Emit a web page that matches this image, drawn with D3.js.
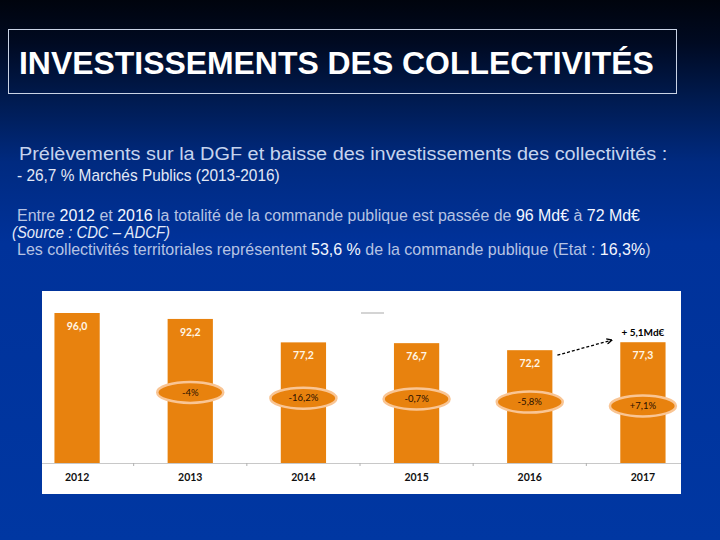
<!DOCTYPE html>
<html>
<head>
<meta charset="utf-8">
<script src="https://cdn.jsdelivr.net/npm/d3@7"></script>
<style>
  html, body { margin: 0; padding: 0; background: #00246b; }
  svg { display: block; }
</style>
</head>
<body>
<svg id="chart" width="720" height="540"></svg>
<script>
// ---------- data ----------
const years = ["2012", "2013", "2014", "2015", "2016", "2017"];
const values = [96.0, 92.2, 77.2, 76.7, 72.2, 77.3];
const valueLabels = ["96,0", "92,2", "77,2", "76,7", "72,2", "77,3"];
const changeLabels = [null, "-4%", "-16,2%", "-0,7%", "-5,8%", "+7,1%"];
// vertical level (in data units, Md€) at which each change badge sits
const badgeLevels = [null, 45.2, 41.5, 41.0, 39.0, 36.5];
const gainLabel = "+ 5,1Md€";

const titleText = "INVESTISSEMENTS DES COLLECTIVITÉS";
const subtitle1 = "Prélèvements sur la DGF et baisse des investissements des collectivités :";
const subtitle2 = "- 26,7 %  Marchés Publics (2013-2016)";
// lines as segments [text, highlighted?]
const line3 = [["Entre ", 0], ["2012", 1], [" et ", 0], ["2016", 1], [" la totalité de la commande publique est passée de ", 0], ["96 Md€", 1], [" à ", 0], ["72 Md€", 1]];
const line4 = "(Source : CDC – ADCF)";
const line5 = [["Les collectivités territoriales représentent ", 0], ["53,6 %", 1], [" de la commande publique (Etat : ", 0], ["16,3%", 1], [")", 0]];

// ---------- drawing ----------
const svg = d3.select("#chart");
const defs = svg.append("defs");

const bg = defs.append("linearGradient").attr("id", "bg").attr("x1", 0).attr("y1", 0).attr("x2", 0).attr("y2", 1);
[[0, "#00040d"], [0.08, "#000a22"], [0.18, "#001a4e"], [0.3, "#002a80"], [0.45, "#00329a"], [1, "#0037a2"]]
  .forEach(([o, c]) => bg.append("stop").attr("offset", o).attr("stop-color", c));
svg.append("rect").attr("width", 720).attr("height", 540).attr("fill", "url(#bg)");

const arrowHead = defs.append("marker").attr("id", "arr").attr("viewBox", "0 0 10 10")
  .attr("refX", 8).attr("refY", 5).attr("markerWidth", 5).attr("markerHeight", 5).attr("orient", "auto");
arrowHead.append("path").attr("d", "M1,1 L9,5 L1,9").attr("fill", "none").attr("stroke", "#000").attr("stroke-width", 2);

// fit a text element horizontally to a target width
function fitText(sel, x, y, target) {
  const w = sel.node().getComputedTextLength();
  sel.attr("x", null).attr("y", null)
     .attr("transform", `translate(${x},${y}) scale(${target / w},1)`);
}

const sans = "Liberation Sans, Arial, sans-serif";

// title box
svg.append("rect").attr("x", 8.5).attr("y", 29.5).attr("width", 668).attr("height", 64)
  .attr("fill", "none").attr("stroke", "#c9d3e6").attr("stroke-width", 1);
const t = svg.append("text").text(titleText)
  .attr("font-family", sans).attr("font-size", 32).attr("font-weight", "bold")
  .attr("fill", "#ffffff");
fitText(t, 19, 74, 635);

// subtitles
const s1 = svg.append("text").text(subtitle1)
  .attr("font-family", sans).attr("font-size", 18.5)
  .attr("fill", "#c6d4ee");
fitText(s1, 19, 160, 649);

const s2 = svg.append("text").text(subtitle2)
  .attr("font-family", sans).attr("font-size", 16).attr("fill", "#e2e8f6");
fitText(s2, 17, 181, 263);

function segLine(segs, x, y, target) {
  const el = svg.append("text").attr("font-family", sans).attr("font-size", 16);
  segs.forEach(([txt, hi]) => el.append("tspan").text(txt).attr("fill", hi ? "#f4f7ff" : "#b6c3e3"));
  fitText(el, x, y, target);
}
segLine(line3, 17, 221, 623);
const s4 = svg.append("text").text(line4).attr("font-family", sans)
  .attr("font-size", 16).attr("font-style", "italic").attr("fill", "#e4eaf8");
fitText(s4, 12, 238, 158);
segLine(line5, 17, 255, 634);

// chart panel
const panel = { x: 42, y: 291, w: 639, h: 203 };
svg.append("rect").attr("x", panel.x).attr("y", panel.y).attr("width", panel.w).attr("height", panel.h).attr("fill", "#ffffff");
defs.append("clipPath").attr("id", "pclip").append("rect")
  .attr("x", panel.x).attr("y", panel.y).attr("width", panel.w).attr("height", panel.h);
const g = svg.append("g").attr("clip-path", "url(#pclip)");

const x = d3.scaleBand().domain(years).range([20.5, 699.5]).paddingInner(0.6).paddingOuter(0.3);
const y = d3.scaleLinear().domain([0, 96]).range([463, 313]);
const orange = "#e8820e";
const data = years.map((yr, i) => ({ yr, v: values[i], lab: valueLabels[i], ch: changeLabels[i], lvl: badgeLevels[i] }));

// axis
const axis = d3.axisBottom(x).tickSize(0).tickFormat(d => d);
const ag = g.append("g").attr("transform", `translate(0,${y(0)})`).call(axis);
ag.select(".domain").attr("stroke", "#c8c8c8").attr("d", `M${panel.x},0.5H${panel.x + panel.w}`);
ag.selectAll("text").attr("font-family", "Lato, Open Sans, sans-serif").attr("font-weight", "bold")
  .attr("font-size", 10.5).attr("fill", "#111").attr("dy", "1.4em");
// category-boundary tick marks
g.selectAll(".bt").data(years.slice(1)).join("line")
  .attr("x1", d => x(d) - x.step() * x.paddingInner() / 2).attr("x2", d => x(d) - x.step() * x.paddingInner() / 2)
  .attr("y1", y(0)).attr("y2", y(0) + 3).attr("stroke", "#b0b0b0");

// faint legend remnant
g.append("line").attr("x1", 361).attr("x2", 384).attr("y1", 313).attr("y2", 313)
  .attr("stroke", "#b8b8b8").attr("stroke-width", 1.5).attr("opacity", 0.8);

// bars
g.selectAll(".bar").data(data).join("rect")
  .attr("x", d => x(d.yr)).attr("width", x.bandwidth())
  .attr("y", d => y(d.v)).attr("height", d => y(0) - y(d.v)).attr("fill", orange);

g.selectAll(".vl").data(data).join("text")
  .attr("x", d => x(d.yr) + x.bandwidth() / 2).attr("y", d => y(d.v) + 17)
  .attr("text-anchor", "middle").attr("font-family", "Lato, Open Sans, sans-serif")
  .attr("font-weight", "bold").attr("font-size", 10.5).attr("fill", "#fff6e6").text(d => d.lab);

// change badges
const badges = g.selectAll(".badge").data(data.filter(d => d.ch)).join("g")
  .attr("transform", d => `translate(${x(d.yr) + x.bandwidth() / 2},${y(d.lvl)})`);
badges.append("ellipse").attr("rx", 33).attr("ry", 10.5).attr("fill", orange)
  .attr("stroke", "#f9c594").attr("stroke-width", 2.5);
badges.append("text").attr("text-anchor", "middle").attr("dy", "0.35em")
  .attr("font-family", "Lato, Open Sans, sans-serif").attr("font-size", 9.5)
  .attr("fill", "#2a1000").text(d => d.ch);

// arrow 2016 -> 2017
const b16 = data[4], b17 = data[5];
g.append("line")
  .attr("x1", x(b16.yr) + x.bandwidth() + 5).attr("y1", y(b16.v) + 5)
  .attr("x2", x(b17.yr) - 9).attr("y2", y(b17.v) - 2)
  .attr("stroke", "#000").attr("stroke-width", 1.3).attr("stroke-dasharray", "3,2")
  .attr("marker-end", "url(#arr)");
g.append("text").attr("x", x(b17.yr) + x.bandwidth() / 2).attr("y", y(b17.v) - 6)
  .attr("text-anchor", "middle").attr("font-family", "Lato, Open Sans, sans-serif")
  .attr("font-weight", "bold").attr("font-size", 10).attr("fill", "#000").text(gainLabel);
</script>
</body>
</html>
